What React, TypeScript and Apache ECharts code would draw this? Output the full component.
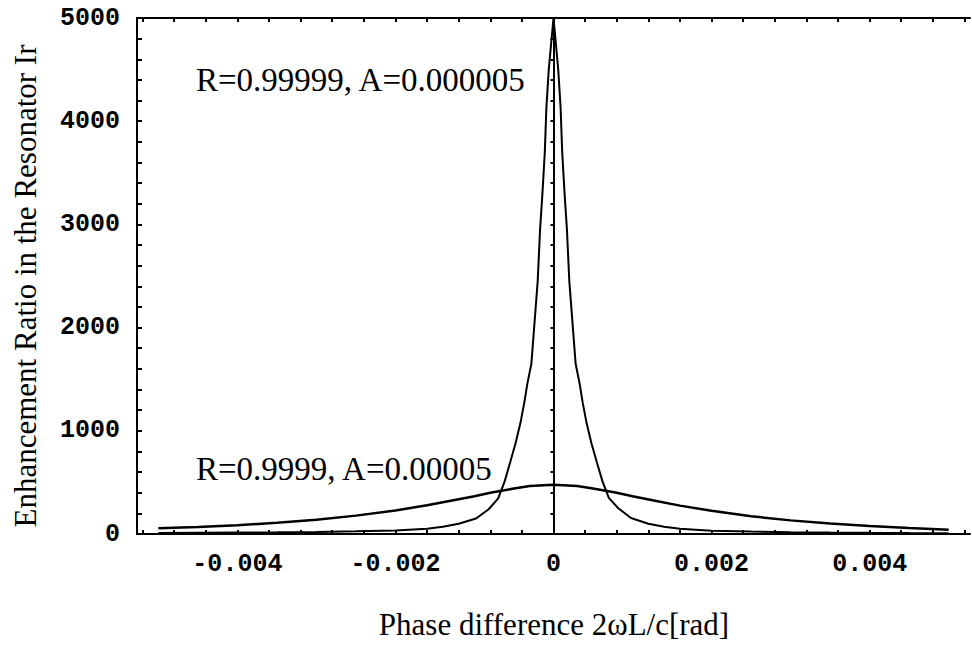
import React, { useEffect, useRef } from "react";
import * as echarts from "echarts";

// Broad curve: R=0.9999, A=0.00005
const broadX = [-0.005, -0.0045, -0.004, -0.0035, -0.003, -0.0025, -0.002, -0.0016, -0.0013, -0.001, -0.0008, -0.0005, -0.0003, 0, 0.0003, 0.0005, 0.0008, 0.001, 0.0013, 0.0016, 0.002, 0.0025, 0.003, 0.0035, 0.004, 0.0045, 0.005];
const broadY = [55, 68, 85, 108, 138, 178, 228, 278, 322, 366, 400, 440, 465, 478, 465, 440, 400, 365, 320, 275, 225, 172, 132, 102, 78, 58, 42];

// Narrow curve: R=0.99999, A=0.000005
const narrowX = [-0.005, -0.0045, -0.004, -0.0035, -0.003, -0.0025, -0.002, -0.0016, -0.0014, -0.0012, -0.00098, -0.00082, -0.0007, -0.00062, -0.00055, -0.00048, -0.00042, -0.00037, -0.00033, -0.00028, -0.00025, -0.0002, -0.00017, -0.00014, -0.00011, -0.00009, -0.00006, 0, 0.00006, 0.00009, 0.00011, 0.00014, 0.00017, 0.0002, 0.00025, 0.00028, 0.00033, 0.00037, 0.00042, 0.00048, 0.00055, 0.00062, 0.0007, 0.00082, 0.00098, 0.0012, 0.0014, 0.0016, 0.002, 0.0025, 0.003, 0.0035, 0.004, 0.0045, 0.005];
const narrowY = [10, 12, 14, 16, 20, 26, 34, 52, 70, 100, 150, 240, 345, 505, 690, 880, 1070, 1270, 1460, 1650, 1950, 2450, 2950, 3300, 3700, 4130, 4500, 5000, 4500, 4130, 3700, 3300, 2950, 2450, 1950, 1650, 1460, 1270, 1070, 880, 690, 510, 350, 250, 155, 100, 70, 50, 32, 24, 18, 14, 11, 9, 8];

const xLabelValues = [-0.004, -0.002, 0, 0.002, 0.004];
const xLabelTexts = ["-0.004", "-0.002", "0", "0.002", "0.004"];
const xTickValues = [-0.0052, -0.0048, -0.0044, -0.004, -0.0036, -0.0032, -0.0028, -0.0024, -0.002, -0.0016, -0.0012, -0.0008, -0.0004, 0, 0.0004, 0.0008, 0.0012, 0.0016, 0.002, 0.0024, 0.0028, 0.0032, 0.0036, 0.004, 0.0044, 0.0048, 0.0052];
const yLabelValues = [0, 1000, 2000, 3000, 4000, 5000];
const yTickValues = [0, 200, 400, 600, 800, 1000, 1200, 1400, 1600, 1800, 2000, 2200, 2400, 2600, 2800, 3000, 3200, 3400, 3600, 3800, 4000, 4200, 4400, 4600, 4800, 5000];

const xTitle = "Phase difference 2ωL/c[rad]";
const yTitle = "Enhancement Ratio in the Resonator Ir";
const labelNarrow = "R=0.99999, A=0.000005";
const labelBroad = "R=0.9999, A=0.00005";

const X_MIN = -0.00527;
const X_MAX = 0.00527;

export default function App() {
  const ref = useRef<HTMLDivElement>(null);
  useEffect(() => {
    if (!ref.current) return;
    const chart = echarts.init(ref.current, undefined, { renderer: "svg" });
    const tickFont = {
      fontFamily: "Liberation Mono",
      fontWeight: "bold" as const,
      fontSize: 25,
      color: "#000",
    };
    const frameLine = { color: "#000", width: 2 };
    const fmtX = (v: number) => {
      const i = xLabelValues.findIndex((t) => Math.abs(t - v) < 1e-9);
      return i >= 0 ? xLabelTexts[i] : "";
    };
    chart.setOption({
      animation: false,
      backgroundColor: "#fff",
      grid: { left: 137, right: 2, top: 18, bottom: 111, containLabel: false },
      xAxis: [
        {
          type: "value",
          min: X_MIN,
          max: X_MAX,
          position: "bottom",
          axisLine: { show: true, onZero: false, lineStyle: frameLine },
          axisTick: { show: true, inside: true, length: 4, customValues: xTickValues, lineStyle: { color: "#000", width: 2 } },
          axisLabel: { show: true, customValues: xLabelValues, formatter: fmtX, margin: 18, ...tickFont },
          splitLine: { show: false },
        },
        {
          type: "value",
          min: X_MIN,
          max: X_MAX,
          position: "top",
          axisLine: { show: true, onZero: false, lineStyle: frameLine },
          axisTick: { show: true, inside: true, length: 4, customValues: xTickValues, lineStyle: { color: "#000", width: 2 } },
          axisLabel: { show: false },
          splitLine: { show: false },
        },
      ],
      yAxis: [
        {
          type: "value",
          min: 0,
          max: 5000,
          position: "left",
          axisLine: { show: true, onZero: false, lineStyle: frameLine },
          axisTick: { show: true, inside: true, length: 5, customValues: yTickValues, lineStyle: { color: "#000", width: 2 } },
          axisLabel: { show: true, customValues: yLabelValues, formatter: (v: number) => String(Math.round(v)), margin: 17, ...tickFont },
          splitLine: { show: false },
        },
        {
          type: "value",
          min: 0,
          max: 5000,
          position: "right",
          axisLine: { show: false },
          axisTick: { show: true, inside: true, length: 3, customValues: yTickValues, lineStyle: { color: "#000", width: 2 } },
          axisLabel: { show: false },
          splitLine: { show: false },
        },
      ],
      series: [
        {
          type: "line",
          name: labelBroad,
          data: broadX.map((x, i) => [x, broadY[i]]),
          showSymbol: false,
          symbol: "none",
          lineStyle: { color: "#000", width: 2.5 },
          clip: true,
          markLine: {
            silent: true,
            symbol: ["none", "none"],
            label: { show: false },
            lineStyle: { color: "#000", width: 2, type: "solid" },
            data: [{ xAxis: 0 }],
          },
        },
        {
          type: "line",
          name: labelNarrow,
          data: narrowX.map((x, i) => [x, narrowY[i]]),
          showSymbol: false,
          symbol: "none",
          lineStyle: { color: "#000", width: 2 },
          clip: true,
        },
      ],
      graphic: [
        {
          type: "text",
          left: 196,
          top: 63,
          style: { text: labelNarrow, font: "33px 'Liberation Serif'", fill: "#000" },
        },
        {
          type: "text",
          left: 196,
          top: 452,
          style: { text: labelBroad, font: "33px 'Liberation Serif'", fill: "#000" },
        },
        {
          type: "text",
          x: 554,
          y: 624,
          style: { text: xTitle, font: "31px 'Liberation Serif'", fill: "#000", align: "center", verticalAlign: "middle" },
        },
        {
          type: "text",
          x: 25,
          y: 286,
          rotation: Math.PI / 2,
          style: { text: yTitle, font: "31px 'Liberation Serif'", fill: "#000", align: "center", verticalAlign: "middle" },
        },
      ],
    });
    return () => chart.dispose();
  }, []);
  return (
    <div
      ref={ref}
      style={{ position: "absolute", left: 0, top: 0, width: 972, height: 645, background: "#fff" }}
    />
  );
}
